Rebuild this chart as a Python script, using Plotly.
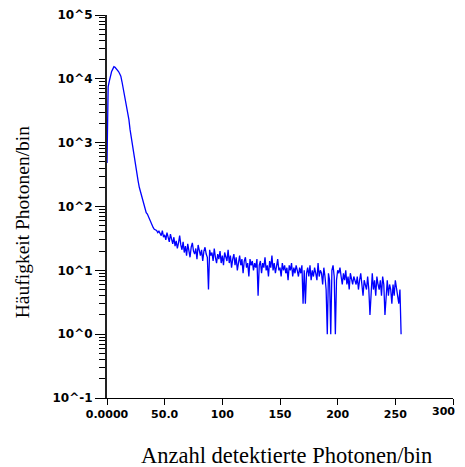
import plotly.graph_objects as go

# Histogram of detected photons per bin (bins 0..255)
counts_peak = [480, 7500, 9200, 11500, 13000, 14200, 15500, 15200, 14500, 13800,
               13000, 12000, 11000, 9000, 7200, 6200, 5000, 3900, 3100, 2300,
               1600, 1200, 950, 720, 560, 440, 320, 250, 200, 170,
               145, 125, 100, 88, 80, 76, 68, 62, 55, 50,
               47, 44, 43, 42, 39, 41]
counts_tail = [38, 35, 42, 33, 36, 30, 39, 34, 28, 37,
               31, 26, 33, 24, 29, 22, 27, 35, 25, 21,
               28, 19, 24, 17, 26, 21, 16, 23, 27, 20,
               18, 22, 15, 25, 19, 17, 21, 14, 20, 23,
               18, 16, 5, 21, 17, 19, 14, 22, 16, 13,
               18, 15, 20, 13, 17, 12, 19, 16, 14, 21,
               13, 17, 11, 15, 18, 12, 16, 10, 14, 17,
               12, 15, 9, 14, 16, 11, 13, 8, 15, 12,
               14, 10, 13, 11, 15, 4, 12, 14, 9, 13,
               11, 16, 10, 12, 8, 14, 11, 17, 10, 13,
               9, 12, 15, 10, 11, 8, 13, 10, 12, 9,
               11, 7, 12, 10, 13, 8, 11, 9, 12, 10,
               8, 11, 9, 12, 3, 10, 3, 9, 11, 8,
               12, 7, 10, 8, 11, 9, 7, 13, 8, 10,
               9, 6, 11, 8, 5, 1, 9, 7, 1, 10,
               12, 8, 1, 7, 10, 9, 11, 8, 6, 9,
               7, 10, 6, 8, 5, 9, 7, 6, 8, 7,
               6, 8, 5, 7, 9, 6, 4, 7, 6, 5,
               8, 5, 2, 6, 9, 5, 7, 4, 8, 6,
               5, 7, 4, 8, 6, 2, 5, 7, 4, 6,
               5, 3, 6, 4, 7, 5, 4, 3, 5, 1]
counts = counts_peak + counts_tail
bins = list(range(len(counts)))

x_tickvals = [0, 50, 100, 150, 200, 250, 300]
x_ticktext = ["0.0000", "50.0", "100", "150", "200", "250", "300"]
y_tickvals = [0.1, 1, 10, 100, 1000, 10000, 100000]
y_ticktext = ["10^-1", "10^0", "10^1", "10^2", "10^3", "10^4", "10^5"]
y_minorvals = [m * d for d in [0.1, 1, 10, 100, 1000, 10000] for m in range(2, 10)]

x_title = "Anzahl detektierte Photonen/bin"
y_title = "Häufigkeit Photonen/bin"

fig = go.Figure()
fig.add_trace(go.Scatter(x=bins, y=counts, mode="lines",
                         line=dict(color="#0000ff", width=1.3),
                         showlegend=False, hoverinfo="skip"))

ytickfont = dict(family="DejaVu Sans", size=12, color="black", weight="bold")
xtickfont = dict(family="DejaVu Sans", size=11, color="black", weight="bold")

# last x tick label drawn as an annotation so it is not cut at the page edge
shown_ticktext = x_ticktext[:-1] + [""]

fig.update_layout(
    width=465, height=459,
    margin=dict(l=99, r=20, t=7, b=69, autoexpand=False),
    paper_bgcolor="white", plot_bgcolor="white",
    xaxis=dict(range=[0, 300], tickmode="array", tickvals=x_tickvals,
               ticktext=shown_ticktext, ticks="outside", ticklen=6, tickwidth=1,
               tickcolor="black", showline=True, linecolor="black", linewidth=1,
               showgrid=False, zeroline=False, tickfont=xtickfont, automargin=False,
               ticklabeloverflow="allow"),
    yaxis=dict(type="log", range=[-1, 5], tickmode="array", tickvals=y_tickvals,
               ticktext=y_ticktext, ticks="outside", ticklen=10, tickwidth=1,
               tickcolor="black", showline=True, linecolor="#222222", linewidth=2,
               showgrid=False, zeroline=False, tickfont=ytickfont, automargin=False,
               ticklabeloverflow="allow",
               minor=dict(tickmode="array", tickvals=y_minorvals, ticks="outside",
                          ticklen=6, tickwidth=1, tickcolor="black", showgrid=False)),
    annotations=[
        dict(text=x_ticktext[-1], xref="x", yref="paper", x=x_tickvals[-1],
             y=-0.036, showarrow=False, xanchor="right", yanchor="middle",
             xshift=4, font=xtickfont),
        dict(text=x_title, xref="paper", yref="paper", x=0.519, y=-0.151,
             showarrow=False, xanchor="center", yanchor="middle",
             font=dict(family="Liberation Serif", size=22.5, color="black")),
        dict(text=y_title, xref="paper", yref="paper", x=-0.245, y=0.4595,
             showarrow=False, xanchor="center", yanchor="middle", textangle=-90,
             font=dict(family="Liberation Serif", size=19.5, color="black")),
    ],
)

fig.write_html("out.html")
